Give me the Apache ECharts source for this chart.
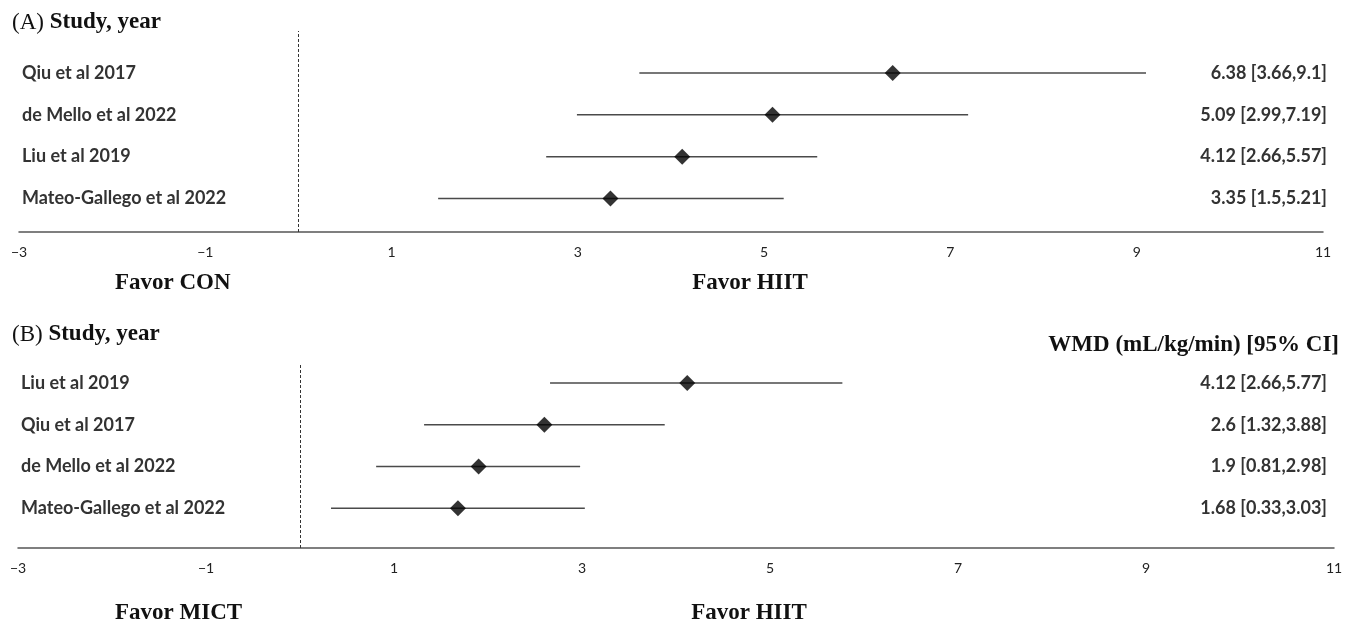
<!DOCTYPE html>
<html>
<head>
<meta charset="utf-8">
<script src="https://cdn.jsdelivr.net/npm/echarts@6/dist/echarts.min.js"></script>
<style>html,body{margin:0;padding:0;background:#fff}#c{width:1354px;height:627px}</style>
</head>
<body>
<div id="c"></div>
<script>
// ---- data ----
const rowPos = [4, 3, 2, 1];
const studiesA = ['Qiu et al 2017', 'de Mello et al 2022', 'Liu et al 2019', 'Mateo-Gallego et al 2022'];
const wmdA = [6.38, 5.09, 4.12, 3.35];
const loA = [3.66, 2.99, 2.66, 1.5];
const hiA = [9.1, 7.19, 5.57, 5.21];
const studiesB = ['Liu et al 2019', 'Qiu et al 2017', 'de Mello et al 2022', 'Mateo-Gallego et al 2022'];
const wmdB = [4.12, 2.6, 1.9, 1.68];
const loB = [2.66, 1.32, 0.81, 0.33];
const hiB = [5.77, 3.88, 2.98, 3.03];
const xMin = -3, xMax = 11, xInterval = 2;

const serif = '"Liberation Serif", "DejaVu Serif", serif';
const sans = 'Lato, "Open Sans", sans-serif';

function ciData(lo, hi, w) { return rowPos.map((y, i) => [lo[i], hi[i], y, w[i]]); }
function ciSeries(idx, lo, hi, w) {
  return {
    type: 'custom', xAxisIndex: idx, yAxisIndex: idx,
    data: ciData(lo, hi, w),
    encode: { x: [0, 1], y: 2 },
    renderItem: function (params, api) {
      const y = api.value(2);
      const p1 = api.coord([api.value(0), y]);
      const p2 = api.coord([api.value(1), y]);
      return { type: 'line', shape: { x1: p1[0], y1: p1[1], x2: p2[0], y2: p2[1] },
        style: { stroke: '#4a4a4a', lineWidth: 1.5 } };
    },
    markLine: {
      silent: true, symbol: 'none', label: { show: false },
      lineStyle: { type: [3, 2], color: '#333', width: 1 },
      data: [{ xAxis: 0 }]
    },
    z: 2
  };
}
function pointSeries(idx, w) {
  return {
    type: 'scatter', xAxisIndex: idx, yAxisIndex: idx,
    data: rowPos.map((y, i) => [w[i], y]),
    symbol: 'diamond', symbolSize: [16, 16],
    itemStyle: { color: '#000' }, z: 3
  };
}
function textSeries(idx, studies, lo, hi, w, rightOffset) {
  return {
    type: 'custom', xAxisIndex: idx, yAxisIndex: idx,
    data: rowPos.map((y, i) => [w[i], y, i]),
    encode: { x: 0, y: 1 },
    renderItem: function (params, api) {
      const i = api.value(2);
      const cs = params.coordSys;
      const py = api.coord([0, api.value(1)])[1];
      return { type: 'group', children: [
        { type: 'text', x: cs.x + 3, y: py,
          style: { text: studies[i], font: 'bold 18px ' + sans, fill: '#333', align: 'left', verticalAlign: 'middle' } },
        { type: 'text', x: cs.x + cs.width + rightOffset, y: py,
          style: { text: w[i] + ' [' + lo[i] + ',' + hi[i] + ']', font: 'bold 18px ' + sans, fill: '#333', align: 'right', verticalAlign: 'middle' } }
      ] };
    },
    z: 4
  };
}
function xAxis(gridIndex) {
  return {
    type: 'value', gridIndex: gridIndex, min: xMin, max: xMax, interval: xInterval,
    splitLine: { show: false }, axisTick: { show: false },
    axisLine: { show: true, onZero: false, lineStyle: { color: '#555', width: 1.5 } },
    axisLabel: { margin: 13, color: '#222', fontSize: 14, fontFamily: sans,
      formatter: v => v < 0 ? '\u2212' + Math.abs(v) : String(v) }
  };
}

const chart = echarts.init(document.getElementById('c'));
const titleRich = {
  r: { font: '23px ' + serif, fill: '#111' }, b: { font: 'bold 23px ' + serif, fill: '#111' } };
chart.setOption({
  animation: false,
  grid: [
    { left: 19, right: 31, top: 31, height: 201 },
    { left: 18, right: 20, top: 363, height: 185 }
  ],
  xAxis: [xAxis(0), xAxis(1)],
  yAxis: [
    { type: 'value', gridIndex: 0, min: 0.2, max: 5, show: false },
    { type: 'value', gridIndex: 1, min: 0.05, max: 4.48, show: false }
  ],
  graphic: [
    { type: 'text', left: 12, top: 11, style: { rich: titleRich, text: '{r|(A) }{b|Study, year}' } },
    { type: 'text', left: 12, top: 323, style: { rich: titleRich, text: '{r|(B) }{b|Study, year}' } },
    { type: 'text', x: 1339, y: 345, style: { text: 'WMD (mL/kg/min) [95% CI]', font: 'bold 23px ' + serif, fill: '#111', align: 'right', verticalAlign: 'middle' } },
    { type: 'text', x: 115, y: 283, style: { text: 'Favor CON', font: 'bold 23px ' + serif, fill: '#111', align: 'left', verticalAlign: 'middle' } },
    { type: 'text', x: 750, y: 283, style: { text: 'Favor HIIT', font: 'bold 23px ' + serif, fill: '#111', align: 'center', verticalAlign: 'middle' } },
    { type: 'text', x: 115, y: 613, style: { text: 'Favor MICT', font: 'bold 23px ' + serif, fill: '#111', align: 'left', verticalAlign: 'middle' } },
    { type: 'text', x: 749, y: 613, style: { text: 'Favor HIIT', font: 'bold 23px ' + serif, fill: '#111', align: 'center', verticalAlign: 'middle' } }
  ],
  series: [
    ciSeries(0, loA, hiA, wmdA), pointSeries(0, wmdA), textSeries(0, studiesA, loA, hiA, wmdA, 4),
    ciSeries(1, loB, hiB, wmdB), pointSeries(1, wmdB), textSeries(1, studiesB, loB, hiB, wmdB, -7)
  ]
});
</script>
</body>
</html>
